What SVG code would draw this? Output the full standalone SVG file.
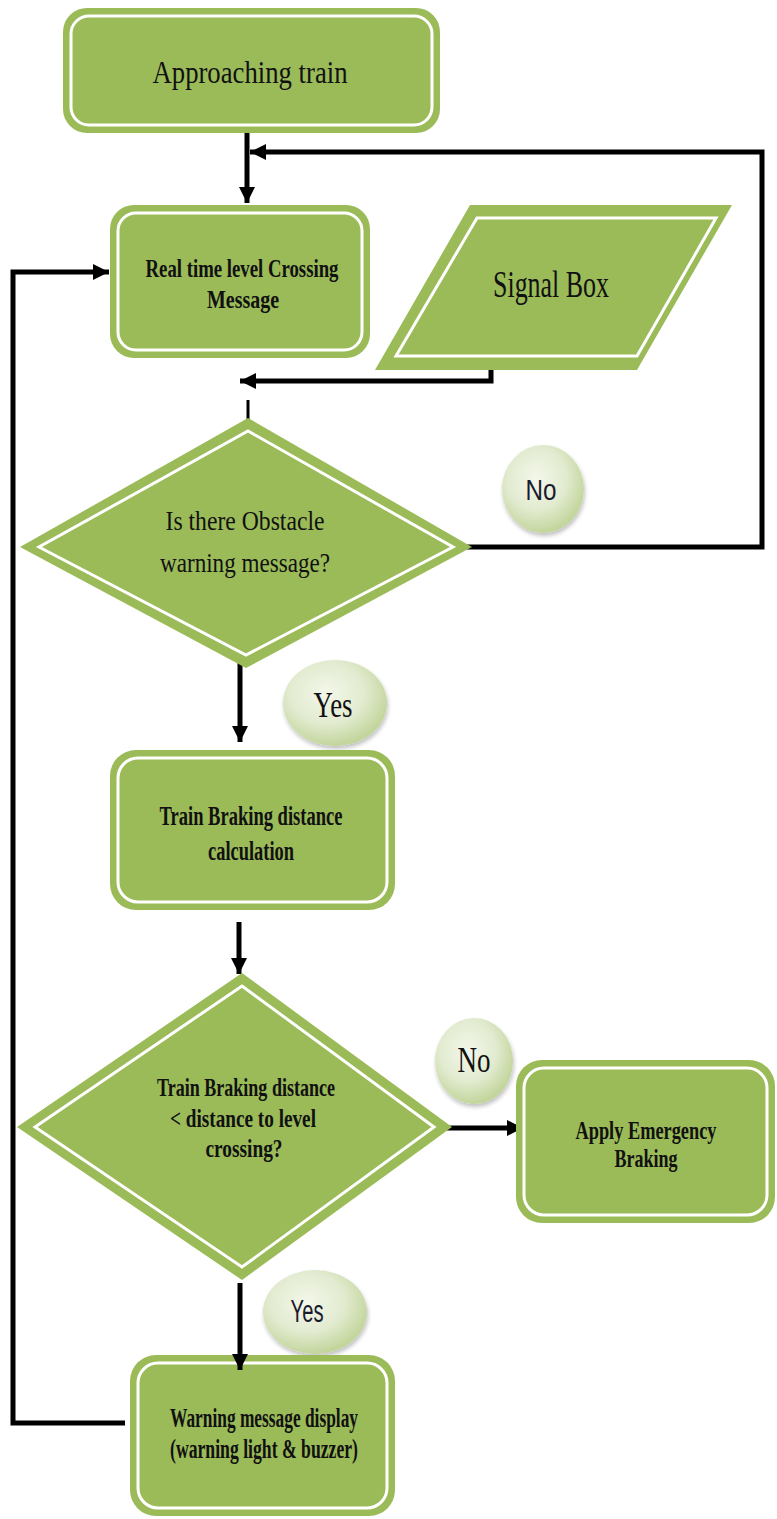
<svg xmlns="http://www.w3.org/2000/svg" width="777" height="1519" viewBox="0 0 777 1519">
<style>
.box{fill:#9BBB59;}
.inner{fill:none;stroke:#ffffff;stroke-width:3;}
.t{font-family:"Liberation Serif","Times New Roman",serif;fill:#111;text-anchor:middle;}
.b{font-weight:bold;}
.s{font-family:"Liberation Sans",Arial,sans-serif;fill:#1a1a2e;text-anchor:middle;}
.line{fill:none;stroke:#000;stroke-width:5;stroke-linejoin:miter;}
.bub{fill:url(#bg);filter:url(#sh);}
</style>
<defs>
<radialGradient id="bg" cx="0.42" cy="0.38" r="0.65">
<stop offset="0" stop-color="#f3f7ea"/>
<stop offset="0.55" stop-color="#e2ebd0"/>
<stop offset="1" stop-color="#bfd396"/>
</radialGradient>
<filter id="sh" x="-30%" y="-30%" width="160%" height="160%">
<feGaussianBlur in="SourceAlpha" stdDeviation="2"/>
<feOffset dx="1" dy="3" result="o"/>
<feComponentTransfer><feFuncA type="linear" slope="0.25"/></feComponentTransfer>
<feMerge><feMergeNode/><feMergeNode in="SourceGraphic"/></feMerge>
</filter>
<marker id="ah" viewBox="0 0 10 10" refX="10" refY="5" markerWidth="16" markerHeight="16" markerUnits="userSpaceOnUse" orient="auto">
<path d="M0,0 L10,5 L0,10 z" fill="#000"/>
</marker>
</defs>

<g id="connectors">
<path class="line" d="M247,132 V203" marker-end="url(#ah)"/>
<path class="line" d="M467,547 H762 V152 H250" marker-end="url(#ah)"/>
<path class="line" d="M491,353 V381 H240" marker-end="url(#ah)"/>
<path d="M248,400 V437" fill="none" stroke="#000" stroke-width="3"/>
<path class="line" d="M240,660 V742" marker-end="url(#ah)"/>
<path class="line" d="M239,922 V974" marker-end="url(#ah)"/>
<path class="line" d="M447,1128 H523" marker-end="url(#ah)"/>
<path class="line" d="M125,1423 H13 V272 H109" marker-end="url(#ah)"/>
</g>

<g id="approaching">
<rect class="box" x="63" y="8" width="377" height="125" rx="24"/>
<rect class="inner" x="71" y="16" width="361" height="109" rx="18"/>
<text class="t" x="250" y="83" font-size="32" textLength="195" lengthAdjust="spacingAndGlyphs">Approaching train</text>
</g>

<g id="realtime">
<rect class="box" x="110" y="205" width="260" height="153" rx="24"/>
<rect class="inner" x="118" y="213" width="244" height="137" rx="18"/>
<text class="t b" x="242" y="277" font-size="26" textLength="193" lengthAdjust="spacingAndGlyphs">Real time level Crossing</text>
<text class="t b" x="243" y="308" font-size="26" textLength="72" lengthAdjust="spacingAndGlyphs">Message</text>
</g>

<g id="signalbox">
<polygon class="box" points="470,205 732,205 637,370 375,370"/>
<polygon class="inner" points="477,218 716,218 637,356 396,356"/>
<text class="t" x="551" y="297" font-size="37" textLength="116" lengthAdjust="spacingAndGlyphs">Signal Box</text>
</g>

<g id="decision1">
<polygon class="box" points="248,418 472,547 246,668 20,547"/>
<polygon class="inner" points="248,431 453,547 246,655 39,547"/>
<text class="t" x="245" y="530" font-size="27" textLength="159" lengthAdjust="spacingAndGlyphs">Is there Obstacle</text>
<text class="t" x="245" y="572" font-size="27" textLength="170" lengthAdjust="spacingAndGlyphs">warning message?</text>
</g>

<g id="no1">
<ellipse class="bub" cx="543" cy="489" rx="41" ry="44"/>
<text class="s" x="541" y="500" font-size="29" textLength="31" lengthAdjust="spacingAndGlyphs">No</text>
</g>

<g id="yes1">
<ellipse class="bub" cx="335" cy="703" rx="52" ry="43"/>
<text class="t" x="333" y="717" font-size="36" textLength="39" lengthAdjust="spacingAndGlyphs">Yes</text>
</g>

<g id="braking">
<rect class="box" x="110" y="750" width="285" height="160" rx="26"/>
<rect class="inner" x="118" y="758" width="269" height="144" rx="20"/>
<text class="t b" x="251" y="825" font-size="28" textLength="183" lengthAdjust="spacingAndGlyphs">Train Braking distance</text>
<text class="t b" x="251" y="860" font-size="28" textLength="86" lengthAdjust="spacingAndGlyphs">calculation</text>
</g>

<g id="decision2">
<polygon class="box" points="242,973 452,1127 242,1280 17,1127"/>
<polygon class="inner" points="242,986 434,1127 242,1267 35,1127"/>
<text class="t b" x="246" y="1096" font-size="26" textLength="178" lengthAdjust="spacingAndGlyphs">Train Braking distance</text>
<text class="t b" x="243" y="1127" font-size="26" textLength="146" lengthAdjust="spacingAndGlyphs">&lt; distance to level</text>
<text class="t b" x="244" y="1157" font-size="26" textLength="77" lengthAdjust="spacingAndGlyphs">crossing?</text>
</g>

<g id="no2">
<ellipse class="bub" cx="474" cy="1061" rx="39" ry="43"/>
<text class="t" x="474" y="1072" font-size="36" textLength="33" lengthAdjust="spacingAndGlyphs">No</text>
</g>

<g id="emergency">
<rect class="box" x="516" y="1060" width="259" height="163" rx="26"/>
<rect class="inner" x="524" y="1068" width="243" height="147" rx="20"/>
<text class="t b" x="646" y="1139" font-size="26" textLength="141" lengthAdjust="spacingAndGlyphs">Apply Emergency</text>
<text class="t b" x="646" y="1167" font-size="26" textLength="63" lengthAdjust="spacingAndGlyphs">Braking</text>
</g>

<g id="yes2">
<ellipse class="bub" cx="315" cy="1312" rx="52" ry="42"/>
<text class="s" x="307" y="1322" font-size="31" textLength="33" lengthAdjust="spacingAndGlyphs">Yes</text>
</g>

<g id="warning">
<rect class="box" x="130" y="1355" width="265" height="161" rx="26"/>
<rect class="inner" x="138" y="1363" width="249" height="145" rx="20"/>
<text class="t b" x="264" y="1427" font-size="27" textLength="188" lengthAdjust="spacingAndGlyphs">Warning message display</text>
<text class="t b" x="264" y="1458" font-size="27" textLength="188" lengthAdjust="spacingAndGlyphs">(warning light &amp; buzzer)</text>
</g>

<path class="line" d="M240,1283 V1370" marker-end="url(#ah)"/>
</svg>
